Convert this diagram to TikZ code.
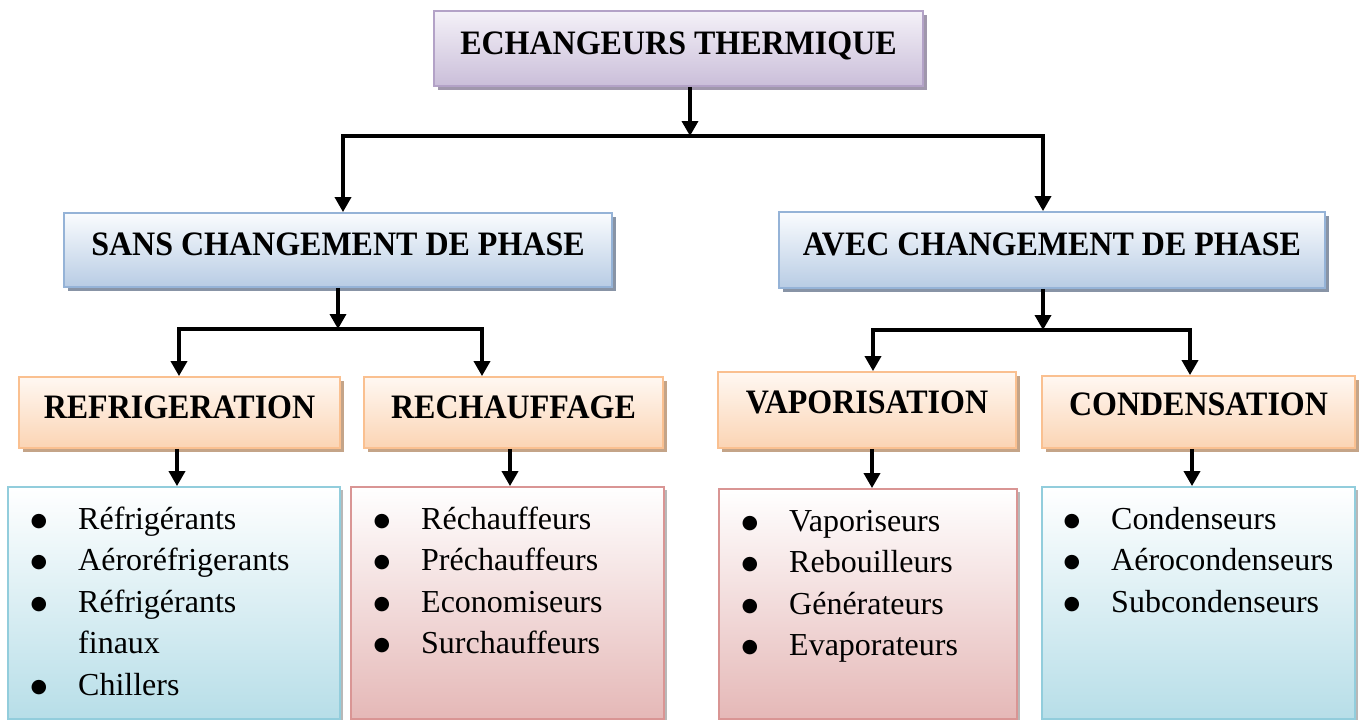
\documentclass[tikz,border=0pt]{standalone}
\usepackage{fontspec}
\setmainfont{Liberation Serif}
\newfontfamily\djsans{DejaVu Sans}
\usepackage{graphicx}
\usetikzlibrary{arrows.meta,shadows}
\definecolor{purpB}{HTML}{B3A2C7}
\definecolor{purpT}{HTML}{F4F1F8}
\definecolor{purpBot}{HTML}{CABED9}
\definecolor{purpS}{HTML}{A097AC}
\definecolor{blueB}{HTML}{95B3D7}
\definecolor{blueT}{HTML}{FAFCFE}
\definecolor{blueBot}{HTML}{B8CCE4}
\definecolor{blueS}{HTML}{8894A6}
\definecolor{orB}{HTML}{FAC090}
\definecolor{orT}{HTML}{FFF8F2}
\definecolor{orBot}{HTML}{FBD4B4}
\definecolor{orS}{HTML}{C4A488}
\definecolor{lbB}{HTML}{92CDDC}
\definecolor{lbBot}{HTML}{B7DEE8}
\definecolor{lpB}{HTML}{D99594}
\definecolor{lpBot}{HTML}{E5B8B7}
\definecolor{lS}{HTML}{B8B8B8}
\newcommand\bul{\hspace{1.5pt}\raisebox{3pt}{\djsans\fontsize{19}{19}\selectfont ●}}
\newcommand\hd[1]{\scalebox{1}[1.07]{#1}}
\begin{document}
\begin{tikzpicture}[x=1pt,y=-1pt,
  box/.style={draw, line width=1.8pt, inner sep=0pt, text height=23pt, text depth=12pt,
    font=\fontsize{32}{36}\selectfont\bfseries},
  purplebox/.style={box, draw=purpB, top color=purpT, bottom color=purpBot,
    general shadow={fill=purpS, shadow xshift=4pt, shadow yshift=-4pt}},
  bluebox/.style={box, draw=blueB, top color=blueT, bottom color=blueBot,
    general shadow={fill=blueS, shadow xshift=4pt, shadow yshift=-4pt}},
  orangebox/.style={box, draw=orB, top color=orT, bottom color=orBot,
    general shadow={fill=orS, shadow xshift=4pt, shadow yshift=-4pt}},
  listbox/.style={draw, line width=1.8pt, inner sep=0pt,
    general shadow={fill=lS, shadow xshift=3pt, shadow yshift=-3pt}},
  bluelist/.style={listbox, draw=lbB, top color=white, bottom color=lbBot},
  pinklist/.style={listbox, draw=lpB, top color=white, bottom color=lpBot},
  listtext/.style={anchor=north west, inner sep=0pt, font=\fontsize{32}{41.5}\selectfont},
  conn/.style={line width=3.5pt, line join=miter},
  arr/.style={conn, -{Triangle[width=16pt,length=15pt]}}
]
\useasboundingbox (0,0) rectangle (1360,720);

% level 1
\node[purplebox, minimum width=489pt, minimum height=75pt] (top) at (678.5,48.5) {\hd{ECHANGEURS THERMIQUE}};

% level 2
\node[bluebox, minimum width=548pt, minimum height=74pt] (sans) at (338,250) {\hd{SANS CHANGEMENT DE PHASE}};
\node[bluebox, minimum width=546pt, minimum height=76pt] (avec) at (1052,250) {\hd{AVEC CHANGEMENT DE PHASE}};

% level 3
\node[orangebox, minimum width=321pt, minimum height=71pt] (refr) at (179.5,412.5) {\hd{REFRIGERATION}};
\node[orangebox, minimum width=299pt, minimum height=71pt] (rech) at (513.5,412.5) {\hd{RECHAUFFAGE}};
\node[orangebox, minimum width=298pt, minimum height=76pt, text depth=17pt] (vapo) at (867,410) {\hd{VAPORISATION}};
\node[orangebox, minimum width=313pt, minimum height=72pt, text depth=16pt] (cond) at (1198.5,412) {\hd{CONDENSATION}};

% lists
\node[bluelist, minimum width=332pt, minimum height=232pt] (l1) at (174,603) {};
\node[pinklist, minimum width=313pt, minimum height=232pt] (l2) at (507.5,603) {};
\node[pinklist, minimum width=298pt, minimum height=230pt] (l3) at (868,604) {};
\node[bluelist, minimum width=313pt, minimum height=232pt] (l4) at (1198.5,603) {};

\node[listtext] (t1) at (29,500) {\begin{tabular}{@{}p{49pt}@{}l@{}}
\bul & Réfrigérants\\ \bul & Aéroréfrigerants\\ \bul & Réfrigérants\\ & finaux\\ \bul & Chillers\end{tabular}};
\node[listtext] (t2) at (372,500) {\begin{tabular}{@{}p{49pt}@{}l@{}}
\bul & Réchauffeurs\\ \bul & Préchauffeurs\\ \bul & Economiseurs\\ \bul & Surchauffeurs\end{tabular}};
\node[listtext] (t3) at (740,502) {\begin{tabular}{@{}p{49pt}@{}l@{}}
\bul & Vaporiseurs\\ \bul & Rebouilleurs\\ \bul & Générateurs\\ \bul & Evaporateurs\end{tabular}};
\node[listtext] (t4) at (1062,500) {\begin{tabular}{@{}p{49pt}@{}l@{}}
\bul & Condenseurs\\ \bul & Aérocondenseurs\\ \bul & Subcondenseurs\end{tabular}};

% connectors level 1 -> 2
\coordinate (j1) at (690,136);
\coordinate (j1l) at (343,136);
\coordinate (j1r) at (1043,136);
\draw[arr] (top.south -| j1) -- (j1);
\draw[arr] (j1) -- (j1l) -- (j1l |- sans.north);
\draw[arr] (j1) -- (j1r) -- (j1r |- avec.north);

% connectors level 2 -> 3
\coordinate (j2) at (338,329);
\coordinate (j2l) at (179,329);
\coordinate (j2r) at (482,329);
\draw[arr] (sans.south -| j2) -- (j2);
\draw[arr] (j2) -- (j2l) -- (j2l |- refr.north);
\draw[arr] (j2) -- (j2r) -- (j2r |- rech.north);

\coordinate (j3) at (1043,330);
\coordinate (j3l) at (873,330);
\coordinate (j3r) at (1190,330);
\draw[arr] (avec.south -| j3) -- (j3);
\draw[arr] (j3) -- (j3l) -- (j3l |- vapo.north);
\draw[arr] (j3) -- (j3r) -- (j3r |- cond.north);

% level 3 -> lists
\coordinate (k1) at (177,0);
\coordinate (k2) at (510,0);
\coordinate (k3) at (872,0);
\coordinate (k4) at (1192,0);
\draw[arr] (refr.south -| k1) -- (l1.north -| k1);
\draw[arr] (rech.south -| k2) -- (l2.north -| k2);
\draw[arr] (vapo.south -| k3) -- (l3.north -| k3);
\draw[arr] (cond.south -| k4) -- (l4.north -| k4);
\end{tikzpicture}
\end{document}
